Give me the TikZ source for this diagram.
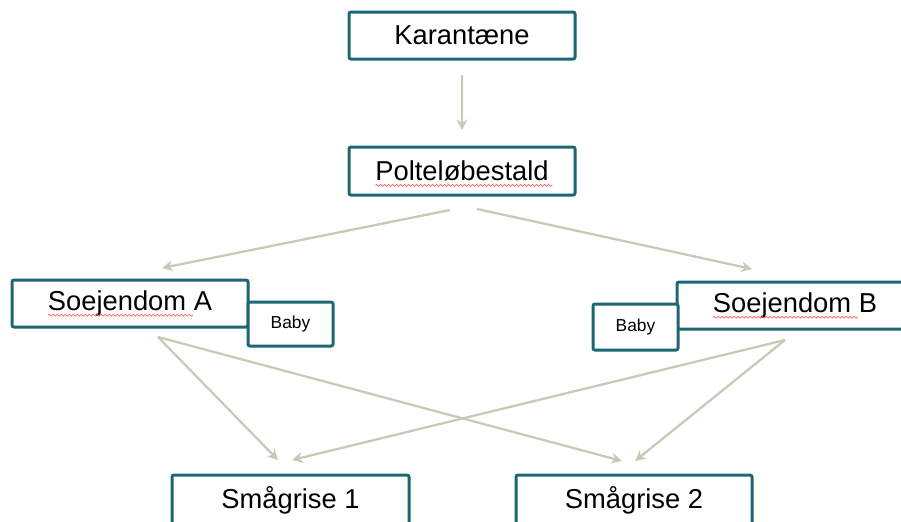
\documentclass[tikz,border=0pt]{standalone}
\usepackage{fontspec}
\setmainfont{Liberation Sans}
\usetikzlibrary{arrows.meta,decorations.pathmorphing}
\definecolor{boxteal}{RGB}{28,103,114}
\definecolor{arrowgrey}{RGB}{201,201,183}
\tikzset{
  unit/.style={draw=boxteal,line width=2.25pt,fill=white,rounded corners=1.5pt,
    inner sep=0pt,font=\fontsize{20.5}{24}\selectfont},
  baby/.style={unit,font=\fontsize{13}{15}\selectfont},
  flow/.style={draw=arrowgrey,line width=1.7pt,-{Stealth[length=8pt,width=8pt]}},
  spell/.style={draw=red!65,line width=0.5pt,decorate,
    decoration={snake,segment length=3pt,amplitude=0.7pt}}
}

\begin{document}
\begin{tikzpicture}[x=0.75pt,y=-0.75pt]
    \useasboundingbox (0,0) rectangle (901,522);
    \node[unit,minimum width=169.5pt,minimum height=35.25pt] (kar) at (462,35.5) {Karantæne};
    \node[unit,minimum width=169.5pt,minimum height=36pt] (pol) at (462,171) {Polteløbestald};
    \node[unit,minimum width=177pt,minimum height=35.25pt] (soeA) at (130,303.5) {Soejendom A};
    \node[baby,minimum width=63.75pt,minimum height=33pt] (babyA) at (290.5,324) {Baby};
    \node[unit,minimum width=177pt,minimum height=35.25pt] (soeB) at (795,305.5) {Soejendom B};
    \node[baby,minimum width=63.75pt,minimum height=34.5pt] (babyB) at (635.5,327) {Baby};
    \node[unit,minimum width=177.75pt,minimum height=37.5pt] (sm1) at (290.5,500) {Smågrise 1};
    \node[unit,minimum width=177pt,minimum height=37.5pt] (sm2) at (634,500) {Smågrise 2};
    \draw[spell] ([yshift=-3.5pt]pol.text) -- ++(177,0);
    \draw[spell] ([yshift=-3.5pt]soeA.text) -- ++(145,0);
    \draw[spell] ([yshift=-3.5pt]soeB.text) -- ++(145,0);
    \coordinate (kar-out) at (462,75);
    \coordinate (pol-in) at (462,130);
    \coordinate (pol-outA) at (450,210);
    \coordinate (pol-outB) at (477,209);
    \coordinate (soeA-in) at (162,268);
    \coordinate (soeB-in) at (752,269);
    \coordinate (soeA-out) at (158,337);
    \coordinate (soeB-out) at (785,340);
    \coordinate (sm1-inA) at (278,460);
    \coordinate (sm1-inB) at (292,460);
    \coordinate (sm2-inA) at (622,461);
    \coordinate (sm2-inB) at (635,461);
    \draw[flow] (kar-out) -- (pol-in);
    \draw[flow] (pol-outA) -- (soeA-in);
    \draw[flow] (pol-outB) -- (soeB-in);
    \draw[flow] (soeA-out) -- (sm1-inA);
    \draw[flow] (soeA-out) -- (sm2-inA);
    \draw[flow] (soeB-out) -- (sm1-inB);
    \draw[flow] (soeB-out) -- (sm2-inB);
\end{tikzpicture}
\end{document}
